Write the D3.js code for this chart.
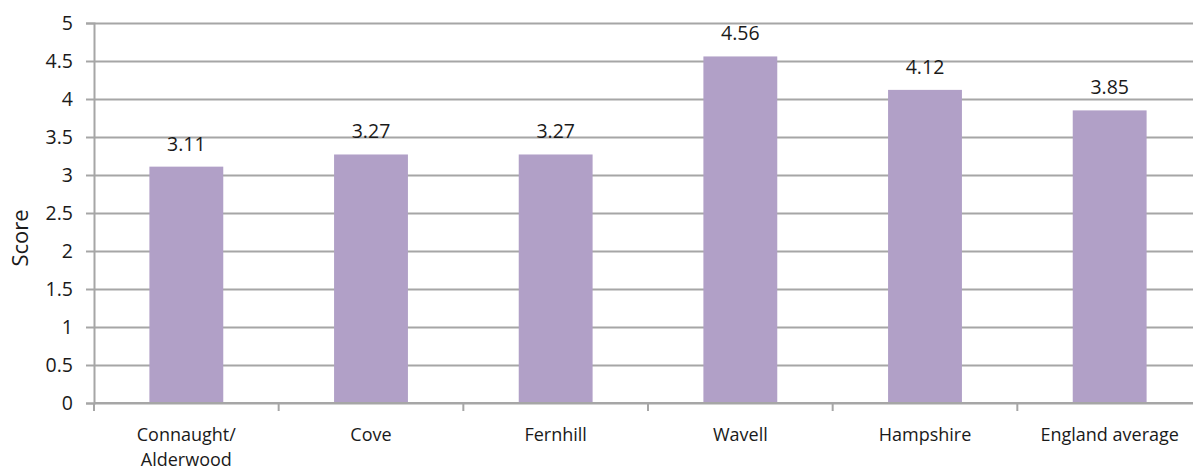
<!DOCTYPE html>
<html lang="en">
<head>
    <meta charset="UTF-8">
    <title>Score by area</title>
    <style>
        body { margin: 0; background: #fff; }
        svg text { font-family: "Open Sans", sans-serif; fill: #1a1a1a; }
        .grid line { stroke: #a6a6a6; stroke-width: 2px; }
        .grid path { display: none; }
        .axis path, .axis line { stroke: #a6a6a6; stroke-width: 2px; }
    </style>
    <script src="https://d3js.org/d3.v7.min.js"></script>
</head>
<body>
<div id="container"></div>
<script>
    // chart data
    var areas = ["Connaught/\nAlderwood", "Cove", "Fernhill", "Wavell", "Hampshire", "England average"];
    var scores = [3.11, 3.27, 3.27, 4.56, 4.12, 3.85];
    var yTicks = [0, 0.5, 1, 1.5, 2, 2.5, 3, 3.5, 4, 4.5, 5];

    var width = 1193, height = 472;
    var margin = {left: 94, right: -9, top: 23, bottom: 69};
    var barColor = "#b1a0c7";
    var fontSize = "19.5px";

    var svg = d3.select("#container").append("svg")
        .attr("width", width)
        .attr("height", height);

    var x = d3.scaleBand()
        .domain(areas)
        .range([margin.left, width - margin.right])
        .paddingInner(0.6)
        .paddingOuter(0.3);

    var y = d3.scaleLinear()
        .domain([0, 5])
        .range([height - margin.bottom, margin.top]);

    // horizontal gridlines
    svg.append("g")
        .attr("class", "grid")
        .attr("transform", "translate(" + margin.left + ",0)")
        .call(d3.axisRight(y).tickValues(yTicks).tickSize(width).tickFormat(""));

    // bars
    svg.selectAll("rect.bar")
        .data(scores)
        .enter()
        .append("rect")
        .attr("class", "bar")
        .attr("x", function(d, i) { return x(areas[i]); })
        .attr("y", function(d) { return y(d); })
        .attr("width", x.bandwidth())
        .attr("height", function(d) { return y(0) - y(d); })
        .style("fill", barColor);

    // value labels
    svg.selectAll("text.value")
        .data(scores)
        .enter()
        .append("text")
        .attr("class", "value")
        .attr("x", function(d, i) { return x(areas[i]) + x.bandwidth() / 2; })
        .attr("y", function(d) { return y(d) - 16; })
        .attr("text-anchor", "middle")
        .style("font-size", fontSize)
        .text(function(d) { return d.toFixed(2); });

    // y axis
    var yAxis = svg.append("g")
        .attr("class", "axis")
        .attr("transform", "translate(" + margin.left + ",0)")
        .call(d3.axisLeft(y).tickValues(yTicks).tickSize(8).tickPadding(13)
            .tickFormat(function(d) { return String(d); }));
    yAxis.selectAll("text").style("font-size", fontSize).attr("dy", "0.33em");

    // x axis with ticks between categories
    var xAxis = svg.append("g")
        .attr("class", "axis")
        .attr("transform", "translate(0," + y(0) + ")");
    xAxis.append("line")
        .attr("x1", margin.left).attr("x2", width)
        .attr("y1", 0).attr("y2", 0);
    var step = x.step();
    xAxis.selectAll("line.tick")
        .data(d3.range(areas.length + 1))
        .enter()
        .append("line")
        .attr("class", "tick")
        .attr("x1", function(i) { return margin.left + i * step; })
        .attr("x2", function(i) { return margin.left + i * step; })
        .attr("y1", 0).attr("y2", 8);

    // category labels, one text per line
    areas.forEach(function(d) {
        d.split("\n").forEach(function(line, k) {
            xAxis.append("text")
                .attr("x", x(d) + x.bandwidth() / 2)
                .attr("y", 38 + k * 25)
                .attr("text-anchor", "middle")
                .style("font-size", "18px")
                .text(line);
        });
    });

    // y axis title
    svg.append("text")
        .attr("transform", "translate(28,238) rotate(-90)")
        .attr("text-anchor", "middle")
        .style("font-size", "22px")
        .text("Score");
</script>
</body>
</html>
